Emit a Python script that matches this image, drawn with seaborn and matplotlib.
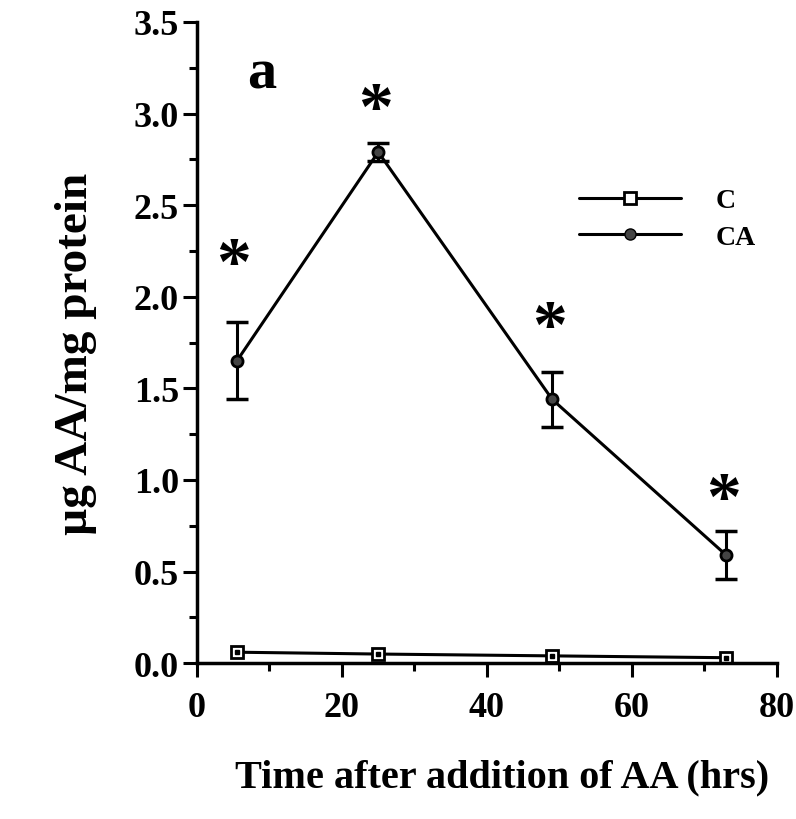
import numpy as np
import pandas as pd
import matplotlib
matplotlib.use("Agg")
import matplotlib.pyplot as plt
import seaborn as sns
from matplotlib.ticker import MultipleLocator
from matplotlib.lines import Line2D

# ---- data ----
time_h = [5.5, 25, 49, 73]
c_vals = [0.06, 0.05, 0.04, 0.03]
ca_vals = [1.65, 2.79, 1.44, 0.59]
ca_err = [0.21, 0.05, 0.15, 0.13]
star_y = [2.23, 3.08, 1.89, 0.95]
groups = ["C", "CA"]
x_ticks = [0, 20, 40, 60, 80]
y_ticks = [0.0, 0.5, 1.0, 1.5, 2.0, 2.5, 3.0, 3.5]
panel_label = "a"
xlabel = "Time after addition of AA (hrs)"
ylabel = "\u00b5g AA/mg protein"

df = pd.DataFrame({
    "time": time_h * 2,
    "value": c_vals + ca_vals,
    "group": ["C"] * len(time_h) + ["CA"] * len(time_h),
})

sns.set_theme(style="ticks")
plt.rcParams["font.family"] = ["Liberation Serif", "DejaVu Serif"]
plt.rcParams["font.weight"] = "bold"
plt.rcParams["text.color"] = "black"
plt.rcParams["axes.labelcolor"] = "black"
plt.rcParams["xtick.color"] = "black"
plt.rcParams["ytick.color"] = "black"
plt.rcParams["axes.edgecolor"] = "black"

fig = plt.figure(figsize=(7.96, 8.2), dpi=100)
ax = fig.add_axes([0.2475, 0.190, 0.7285, 0.782])

sns.lineplot(data=df, x="time", y="value", style="group", hue="group",
             palette={"C": "black", "CA": "black"},
             markers={"C": "s", "CA": "o"}, dashes=False, linewidth=2.2,
             markersize=9, markeredgewidth=2, ax=ax, legend=False)

for ln in ax.get_lines():
    if ln.get_marker() == "s":
        ln.set_markerfacecolor("white")
        ln.set_markeredgecolor("black")
    else:
        ln.set_markerfacecolor("#444444")
        ln.set_markeredgecolor("black")
        ln.set_markersize(8)

# inner dots for C squares
ax.plot(time_h, c_vals, linestyle="none", marker="s", markersize=2.5,
        color="black")

ax.errorbar(time_h, ca_vals, yerr=ca_err, fmt="none", ecolor="black",
            elinewidth=2.2, capsize=8, capthick=2.5, zorder=1)

# significance asterisks
for t, sy in zip(time_h, star_y):
    ax.text(t - 0.4, sy - 0.07, "*", ha="center", va="center", fontsize=50,
            fontweight="bold", color="black")

ax.text(9, 3.22, panel_label, ha="center", va="center", fontsize=42,
        fontweight="bold", color="black")

ax.set_xlim(0, 80)
ax.set_ylim(0, 3.5)
ax.set_xticks(x_ticks)
ax.set_yticks(y_ticks)
ax.xaxis.set_minor_locator(MultipleLocator(10))
ax.yaxis.set_minor_locator(MultipleLocator(0.25))
ax.set_xticklabels([str(v) for v in x_ticks])
ax.set_yticklabels([f"{v:.1f}" for v in y_ticks])
ax.tick_params(axis="both", which="major", direction="out", length=10,
               width=2.2, labelsize=26)
ax.tick_params(axis="y", which="major", pad=3)
ax.tick_params(axis="x", which="major", pad=10)
ax.tick_params(axis="both", which="minor", direction="out", length=6,
               width=2.2)
for lab in ax.get_xticklabels() + ax.get_yticklabels():
    lab.set_fontweight("bold")

sns.despine(ax=ax)
for s in ("left", "bottom"):
    ax.spines[s].set_linewidth(2.5)

ax.set_xlabel(xlabel, fontsize=29, fontweight="bold", labelpad=25)
ax.set_ylabel(ylabel, fontsize=34, fontweight="bold", labelpad=26)
ax.xaxis.label.set_x(0.526)
ax.yaxis.label.set_y(0.484)

handles = [
    Line2D([], [], color="black", lw=2.2, marker="s", markersize=9,
           markerfacecolor="white", markeredgecolor="black", markeredgewidth=2),
    Line2D([], [], color="black", lw=2.2, marker="o", markersize=8,
           markerfacecolor="#444444", markeredgecolor="black"),
]
ax.legend(handles, groups, loc="upper left", bbox_to_anchor=(0.615, 0.78),
          frameon=False, handlelength=3.67, labelspacing=0.4,
          handletextpad=1.25, prop={"weight": "bold", "size": 20})

fig.savefig("out.png", dpi=100)
